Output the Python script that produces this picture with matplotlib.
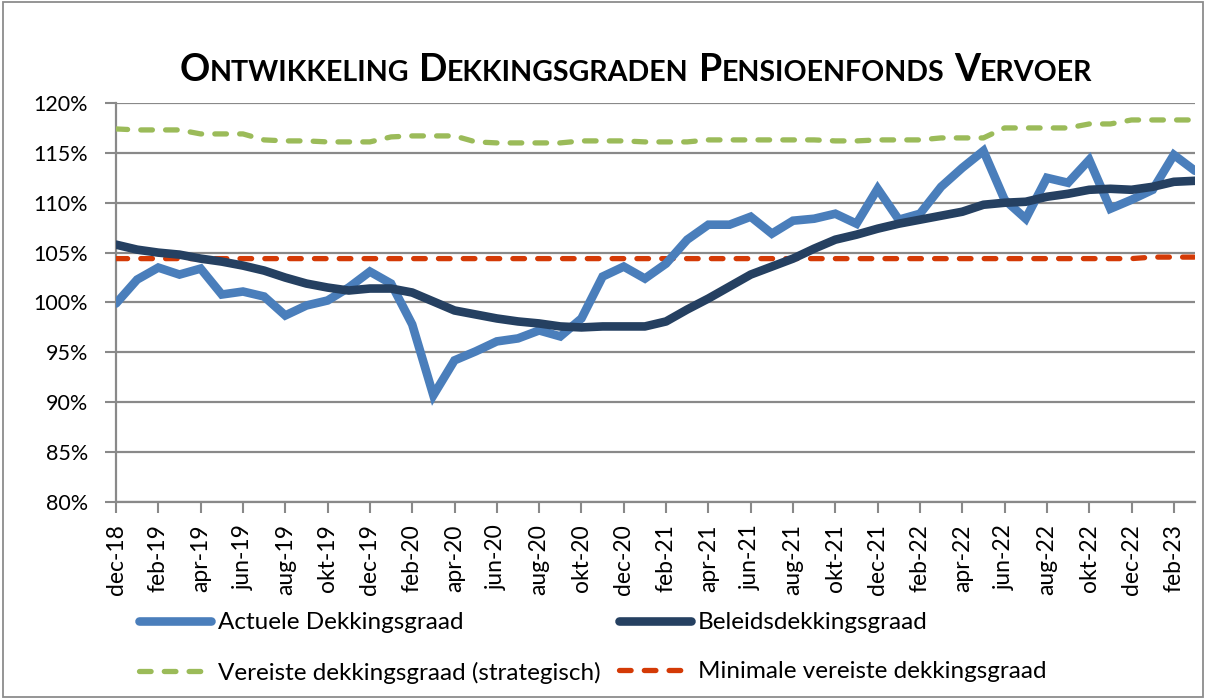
import matplotlib
matplotlib.use("Agg")
import matplotlib.pyplot as plt
from matplotlib.offsetbox import TextArea, HPacker, AnchoredOffsetbox
from matplotlib.patches import Rectangle
from matplotlib.ticker import FixedLocator, FuncFormatter

plt.rcParams['font.family'] = ['Lato', 'DejaVu Sans']

months = ["dec-18", "jan-19", "feb-19", "mrt-19", "apr-19", "mei-19", "jun-19", "jul-19",
          "aug-19", "sep-19", "okt-19", "nov-19", "dec-19", "jan-20", "feb-20", "mrt-20",
          "apr-20", "mei-20", "jun-20", "jul-20", "aug-20", "sep-20", "okt-20", "nov-20",
          "dec-20", "jan-21", "feb-21", "mrt-21", "apr-21", "mei-21", "jun-21", "jul-21",
          "aug-21", "sep-21", "okt-21", "nov-21", "dec-21", "jan-22", "feb-22", "mrt-22",
          "apr-22", "mei-22", "jun-22", "jul-22", "aug-22", "sep-22", "okt-22", "nov-22",
          "dec-22", "jan-23", "feb-23", "mrt-23"]

actuele = [99.9, 102.3, 103.5, 102.8, 103.4, 100.8, 101.1, 100.6, 98.7, 99.7,
           100.2, 101.5, 103.1, 101.9, 97.8, 90.7, 94.2, 95.1, 96.1, 96.4,
           97.2, 96.6, 98.4, 102.6, 103.6, 102.4, 103.9, 106.3, 107.8, 107.8,
           108.6, 106.9, 108.2, 108.4, 108.9, 107.9, 111.4, 108.3, 108.9, 111.6,
           113.5, 115.2, 110.3, 108.4, 112.5, 112.0, 114.3, 109.4, 110.3, 111.3,
           114.8, 113.2]

beleids = [105.8, 105.3, 105.0, 104.8, 104.4, 104.1, 103.7, 103.2, 102.5, 101.9,
           101.5, 101.2, 101.4, 101.4, 101.0, 100.1, 99.2, 98.8, 98.4, 98.1,
           97.9, 97.6, 97.5, 97.6, 97.6, 97.6, 98.1, 99.3, 100.4, 101.6,
           102.8, 103.6, 104.4, 105.4, 106.3, 106.8, 107.4, 107.9, 108.3, 108.7,
           109.1, 109.8, 110.0, 110.1, 110.6, 110.9, 111.3, 111.4, 111.3, 111.6,
           112.1, 112.2]

vereiste = [117.4, 117.3, 117.3, 117.3, 116.9, 116.9, 116.9, 116.3, 116.2, 116.2,
            116.1, 116.1, 116.1, 116.6, 116.7, 116.7, 116.7, 116.1, 116.0, 116.0,
            116.0, 116.0, 116.2, 116.2, 116.2, 116.1, 116.1, 116.1, 116.3, 116.3,
            116.3, 116.3, 116.3, 116.3, 116.2, 116.2, 116.3, 116.3, 116.3, 116.5,
            116.5, 116.5, 117.5, 117.5, 117.5, 117.5, 117.9, 117.9, 118.3, 118.3,
            118.3, 118.3]

minimale = [104.4] * 49 + [104.55, 104.55, 104.55]

y_ticks = [80, 85, 90, 95, 100, 105, 110, 115, 120]

series_labels = ["Actuele Dekkingsgraad", "Beleidsdekkingsgraad",
                 "Vereiste dekkingsgraad (strategisch)", "Minimale vereiste dekkingsgraad"]
title_words = ["ONTWIKKELING", "DEKKINGSGRADEN", "PENSIOENFONDS", "VERVOER"]

W, H = 1206, 699
fig = plt.figure(figsize=(W / 100, H / 100), dpi=100)
ax = fig.add_axes([116 / W, 1 - 502 / H, (1195 - 116) / W, (502 - 103) / H])

x = list(range(len(months)))
grid_c = "#898989"

l1, = ax.plot(x, actuele, color="#4A7EBB", lw=6.2, solid_capstyle="round",
              solid_joinstyle="miter", zorder=4)
l2, = ax.plot(x, beleids, color="#254061", lw=6.2, solid_capstyle="round",
              solid_joinstyle="round", zorder=5)
l3, = ax.plot(x, vereiste, color="#9BBB59", lw=3.8, dash_capstyle="round",
              dashes=(2.2, 2.5), zorder=3)
l4, = ax.plot(x, minimale, color="#D43A06", lw=3.8, dash_capstyle="round",
              dashes=(2.2, 2.5), zorder=3)

ax.set_xlim(0, len(months) - 1)
ax.set_ylim(80, 120)
ax.yaxis.set_major_locator(FixedLocator(y_ticks))
ax.yaxis.set_major_formatter(FuncFormatter(lambda v, p: f"{v:.0f}%"))
tick_pos = x[::2]
ax.set_xticks(tick_pos)
ax.set_xticklabels([months[i] for i in tick_pos], rotation=90, fontsize=16.5)
ax.tick_params(axis="y", labelsize=15.5, length=8, width=1.5, color=grid_c, pad=12)
ax.tick_params(axis="x", length=8, width=1.5, color=grid_c, pad=8)
ax.grid(axis="y", color=grid_c, lw=1.6)
ax.set_axisbelow(True)
for s in ["top", "right"]:
    ax.spines[s].set_visible(False)
for s in ["left", "bottom"]:
    ax.spines[s].set_color(grid_c)
    ax.spines[s].set_linewidth(1.6)

# legend (row-wise order: col 1 = l1, l3 ; col 2 = l2, l4)
leg = fig.legend([l1, l3, l2, l4],
                 [series_labels[0], series_labels[2], series_labels[1], series_labels[3]],
                 ncol=2, loc="upper left", bbox_to_anchor=(139 / W, 1 - 612 / H),
                 frameon=False, fontsize=17.5, handlelength=2.95, handletextpad=0.3,
                 columnspacing=0.75, labelspacing=1.17, borderaxespad=0, borderpad=0)

# title with small caps
big = dict(fontsize=27, fontweight="bold", color="black")
small = dict(fontsize=20.6, fontweight="bold", color="black")
words = []
for w in title_words:
    words.append(HPacker(children=[TextArea(w[0], textprops=big),
                                   TextArea(w[1:], textprops=small)],
                         align="baseline", pad=0, sep=0))
title_box = HPacker(children=words, align="baseline", pad=0, sep=7)
anch = AnchoredOffsetbox(loc="center", child=title_box, frameon=False,
                         bbox_to_anchor=(636 / W, 1 - 70 / H),
                         bbox_transform=fig.transFigure, pad=0, borderpad=0)
fig.add_artist(anch)

fig.add_artist(Rectangle((3 / W, 2 / H), (1203 - 3) / W, (697 - 2) / H,
                         transform=fig.transFigure, fill=False,
                         edgecolor="#8C8C8C", lw=1.3))

fig.savefig("out.png", dpi=100)
